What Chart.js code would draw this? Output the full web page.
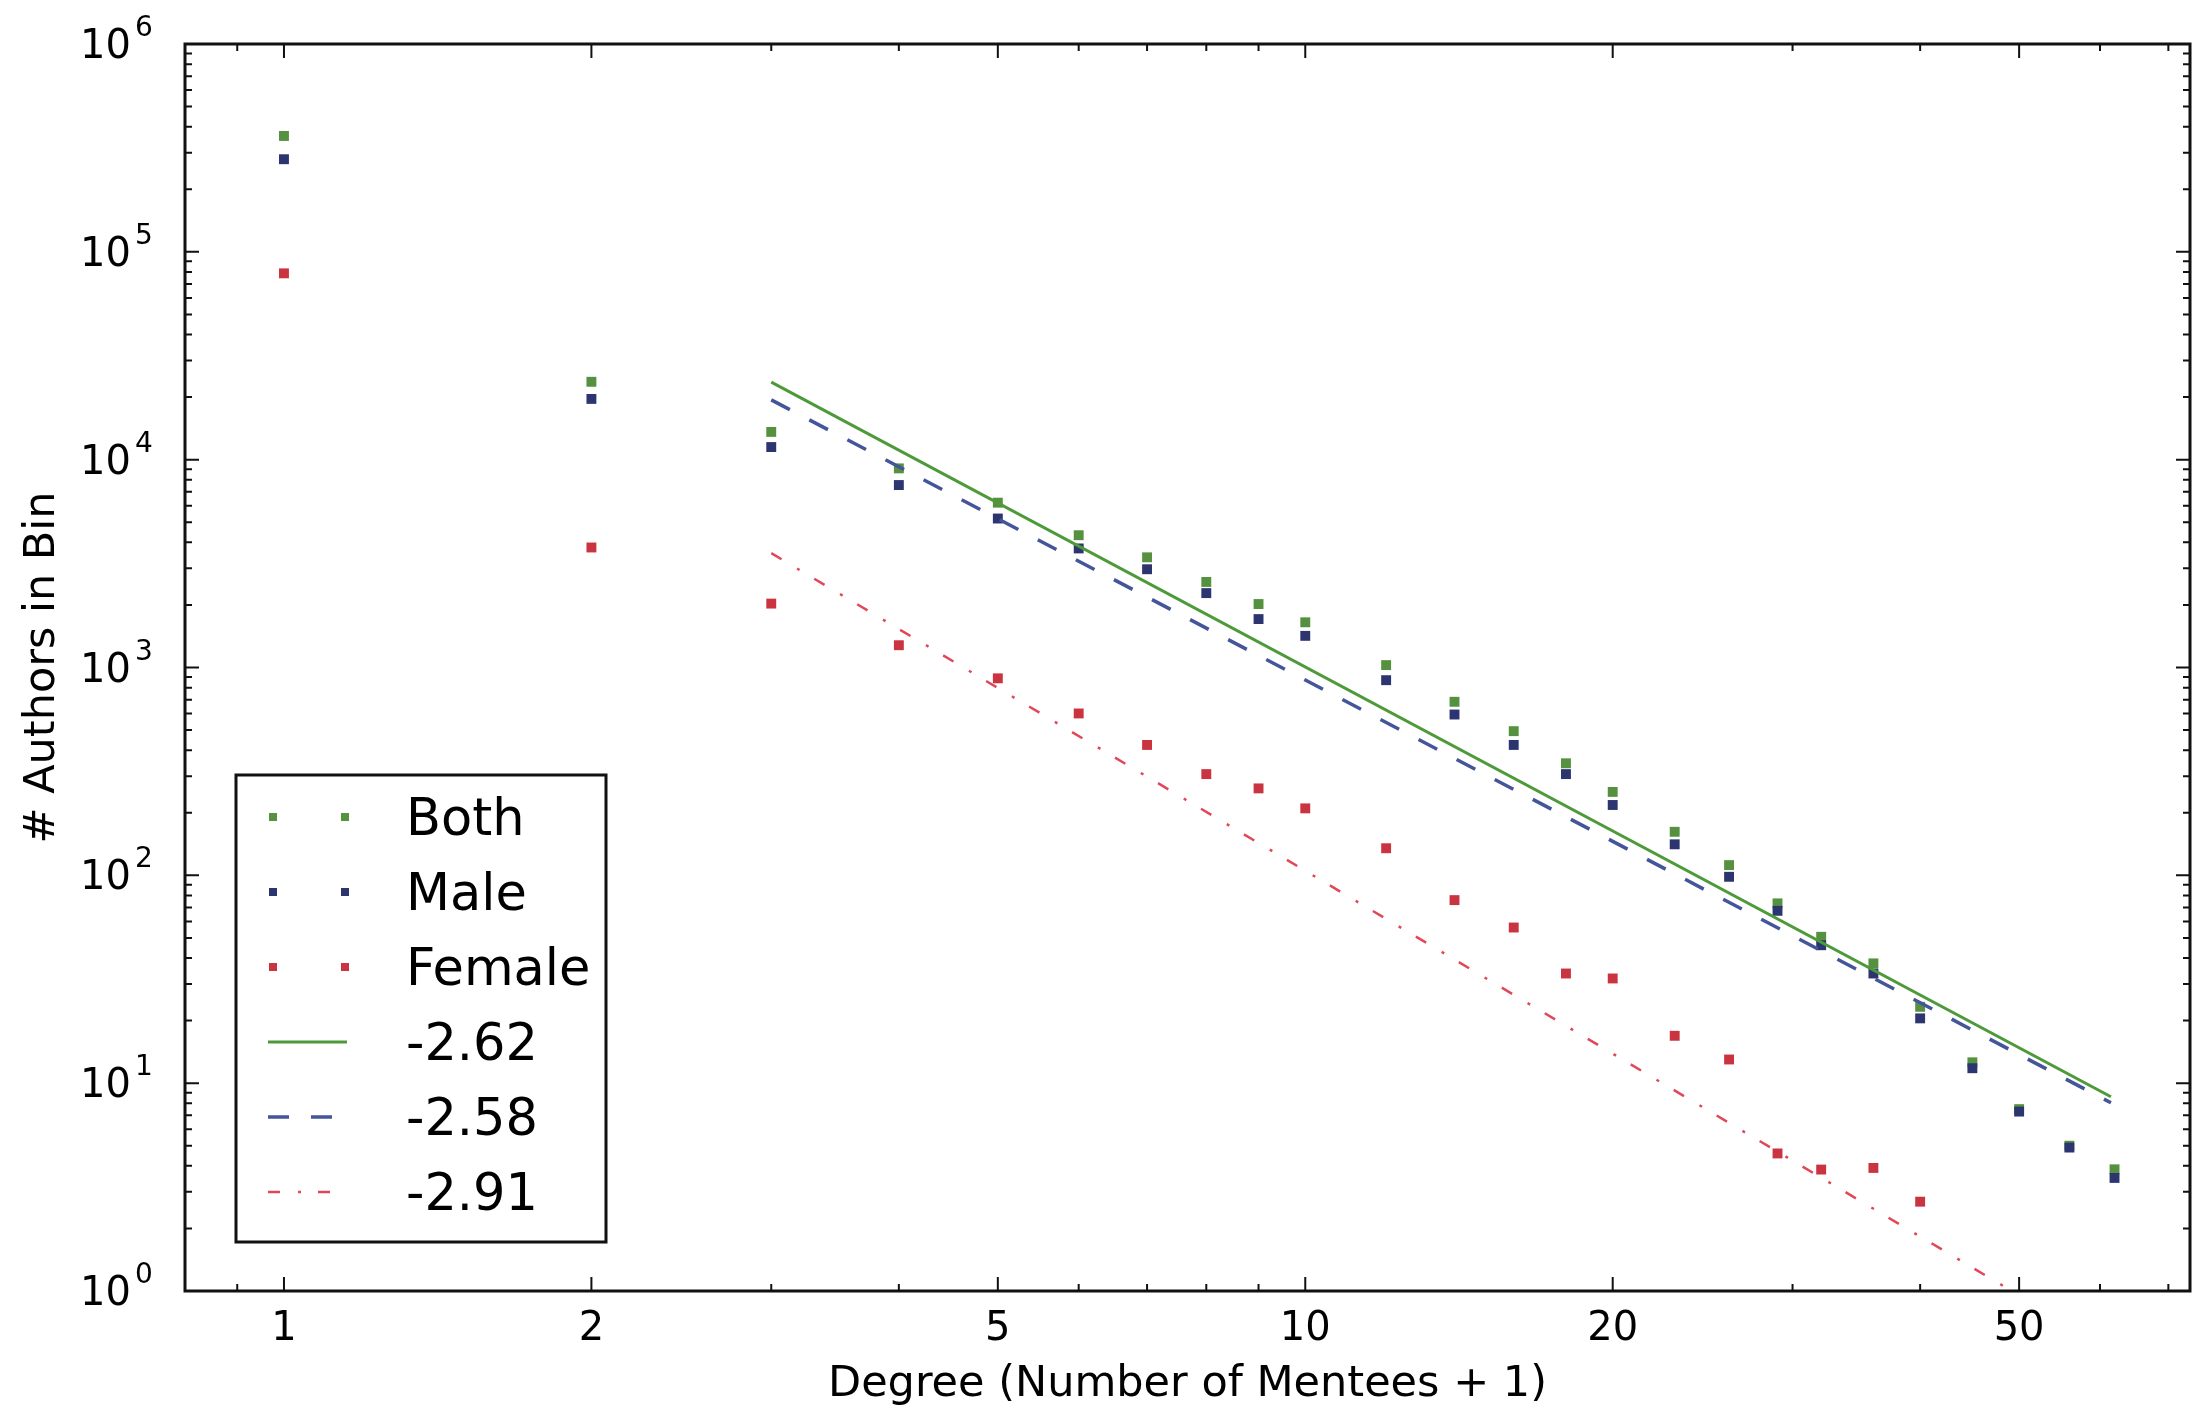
<!DOCTYPE html>
<html>
<head>
<meta charset="utf-8">
<script src="https://cdn.jsdelivr.net/npm/chart.js@4.4.1/dist/chart.umd.min.js"></script>
<style>
html, body { margin: 0; padding: 0; background: #fff; }
#wrap { width: 2197px; height: 1411px; }
</style>
</head>
<body>
<div id="wrap"><canvas id="myChart"></canvas></div>
<script>
// degree bins (number of mentees + 1)
var degree = [1, 2, 3, 4, 5, 6, 7, 8, 9, 10, 12, 14, 16, 18, 20, 23, 26, 29, 32, 36, 40, 45, 50, 56, 62];
var bothCount = [361000, 23700, 13600, 9080, 6210, 4330, 3390, 2580, 2020, 1650, 1027, 684, 494, 346, 252, 162, 112, 73.3, 50.6, 37.7, 23.3, 12.6, 7.5, 5.0, 3.85];
var maleCount = [279000, 19600, 11500, 7550, 5210, 3740, 2970, 2280, 1710, 1420, 869, 594, 424, 307, 218, 141, 98.4, 67.5, 46.1, 33.7, 20.5, 11.8, 7.3, 4.9, 3.5];
var femaleDegree = [1, 2, 3, 4, 5, 6, 7, 8, 9, 10, 12, 14, 16, 18, 20, 23, 26, 29, 32, 36, 40];
var femaleCount = [78800, 3780, 2030, 1280, 887, 601, 424, 307, 262, 210, 135, 76, 56.1, 33.7, 31.9, 16.9, 13.0, 4.59, 3.84, 3.91, 2.69];

// fitted power laws, end points
var fitDegree = [3, 61.5];
var fitBoth = [23600, 8.6];
var fitMale = [19400, 8.05];
var fitFemale = [3550, 0.52];

var xTickValues = [1, 2, 5, 10, 20, 50];
var xMinorValues = [0.9, 3, 4, 6, 7, 8, 9, 30, 40, 60, 70];
var yExponents = [0, 1, 2, 3, 4, 5, 6];

function toPoints(xs, ys) {
    var out = [];
    for (var i = 0; i < ys.length; i++) {
        out.push({x: xs[i], y: ys[i]});
    }
    return out;
}

Chart.defaults.font.family = "'DejaVu Sans'";
Chart.defaults.color = '#000';

var frameTicks = {
    id: 'frameTicks',
    afterDraw: function(chart) {
        var ctx = chart.ctx;
        var a = chart.chartArea;
        var xs = chart.scales.x;
        var ys = chart.scales.y;
        ctx.save();
        ctx.strokeStyle = '#111';
        ctx.lineWidth = 2;

        function xTick(v, len) {
            var px = xs.getPixelForValue(v);
            ctx.beginPath();
            ctx.moveTo(px, a.bottom); ctx.lineTo(px, a.bottom - len);
            ctx.moveTo(px, a.top); ctx.lineTo(px, a.top + len);
            ctx.stroke();
        }
        function yTick(v, len) {
            var py = ys.getPixelForValue(v);
            ctx.beginPath();
            ctx.moveTo(a.left, py); ctx.lineTo(a.left + len, py);
            ctx.moveTo(a.right, py); ctx.lineTo(a.right - len, py);
            ctx.stroke();
        }
        xTickValues.forEach(function(v) { xTick(v, 14); });
        xMinorValues.forEach(function(v) { xTick(v, 7); });
        yExponents.forEach(function(e) {
            yTick(Math.pow(10, e), 14);
            if (e < 6) {
                for (var m = 2; m < 10; m++) yTick(m * Math.pow(10, e), 7);
            }
        });

        ctx.lineWidth = 3;
        ctx.strokeRect(a.left, a.top, a.right - a.left, a.bottom - a.top);

        // y tick labels 10^n
        ctx.fillStyle = '#000';
        yExponents.forEach(function(e) {
            var py = ys.getPixelForValue(Math.pow(10, e));
            ctx.font = "40px 'DejaVu Sans'";
            ctx.textAlign = 'right';
            ctx.textBaseline = 'alphabetic';
            ctx.fillText('10', a.left - 54, py + 14);
            ctx.font = "28px 'DejaVu Sans'";
            ctx.textAlign = 'left';
            ctx.fillText(String(e), a.left - 50, py - 8);
        });

        // legend
        var lx = a.left + 51, ly = 775, lw = 370, lh = 467;
        ctx.fillStyle = '#fff';
        ctx.fillRect(lx, ly, lw, lh);
        ctx.strokeStyle = '#111';
        ctx.lineWidth = 3;
        ctx.setLineDash([]);
        ctx.strokeRect(lx, ly, lw, lh);
        chart.data.datasets.forEach(function(ds, i) {
            var ry = ly + 42 + i * 75;
            if (!ds.showLine) {
                ctx.fillStyle = ds.backgroundColor;
                ctx.fillRect(lx + 33, ry - 4, 8, 8);
                ctx.fillRect(lx + 105, ry - 4, 8, 8);
            } else {
                ctx.strokeStyle = ds.borderColor;
                ctx.lineWidth = ds.borderWidth;
                ctx.setLineDash(ds.borderDash || []);
                ctx.beginPath();
                ctx.moveTo(lx + 32, ry);
                ctx.lineTo(lx + 111, ry);
                ctx.stroke();
                ctx.setLineDash([]);
            }
            ctx.fillStyle = '#000';
            ctx.font = "51px 'DejaVu Sans'";
            ctx.textAlign = 'left';
            ctx.textBaseline = 'alphabetic';
            ctx.fillText(ds.label, lx + 170, ry + 18);
        });
        ctx.restore();
    }
};

new Chart("myChart", {
    type: "scatter",
    data: {
        datasets: [
            {label: "Both", data: toPoints(degree, bothCount), showLine: false, pointStyle: 'rect', pointRadius: 7, pointBorderWidth: 0, backgroundColor: '#55913f', borderColor: '#55913f', order: 6},
            {label: "Male", data: toPoints(degree, maleCount), showLine: false, pointStyle: 'rect', pointRadius: 7, pointBorderWidth: 0, backgroundColor: '#2c3570', borderColor: '#2c3570', order: 5},
            {label: "Female", data: toPoints(femaleDegree, femaleCount), showLine: false, pointStyle: 'rect', pointRadius: 7, pointBorderWidth: 0, backgroundColor: '#c93440', borderColor: '#c93440', order: 4},
            {label: "-2.62", data: toPoints(fitDegree, fitBoth), showLine: true, pointRadius: 0, borderColor: '#4e9a3a', borderWidth: 3, fill: false, order: 3},
            {label: "-2.58", data: toPoints(fitDegree, fitMale), showLine: true, pointRadius: 0, borderColor: '#44559a', borderWidth: 3.5, borderDash: [21, 22], fill: false, order: 2},
            {label: "-2.91", data: toPoints(fitDegree, fitFemale), showLine: true, pointRadius: 0, borderColor: '#e0485a', borderWidth: 2.5, borderDash: [12, 18, 3, 17], fill: false, order: 1}
        ]
    },
    options: {
        responsive: true,
        maintainAspectRatio: false,
        animation: false,
        devicePixelRatio: 1,
        events: [],
        layout: {padding: {top: 44, right: 2, left: 0, bottom: 0}},
        plugins: {legend: {display: false}, tooltip: {enabled: false}},
        scales: {
            x: {
                type: 'logarithmic',
                position: 'bottom',
                min: 0.8,
                max: 73.5,
                afterBuildTicks: function(s) { s.ticks = xTickValues.map(function(v) { return {value: v}; }); },
                afterFit: function(s) { s.height = 120; },
                ticks: {autoSkip: false, maxRotation: 0, padding: 15, color: '#000', font: {size: 40},
                    callback: function(v) { return String(v); }},
                grid: {display: false, drawTicks: false},
                border: {display: false},
                title: {display: true, text: 'Degree (Number of Mentees + 1)', color: '#000', font: {size: 43}, padding: {top: 0, bottom: 0}}
            },
            y: {
                type: 'logarithmic',
                min: 1,
                max: 1000000,
                afterBuildTicks: function(s) { s.ticks = yExponents.map(function(e) { return {value: Math.pow(10, e)}; }); },
                afterFit: function(s) { s.width = 185; },
                ticks: {display: false},
                grid: {display: false, drawTicks: false},
                border: {display: false},
                title: {display: true, text: '# Authors in Bin', color: '#000', font: {size: 43}, padding: {top: 17, bottom: 0}}
            }
        }
    },
    plugins: [frameTicks]
});
</script>
</body>
</html>
